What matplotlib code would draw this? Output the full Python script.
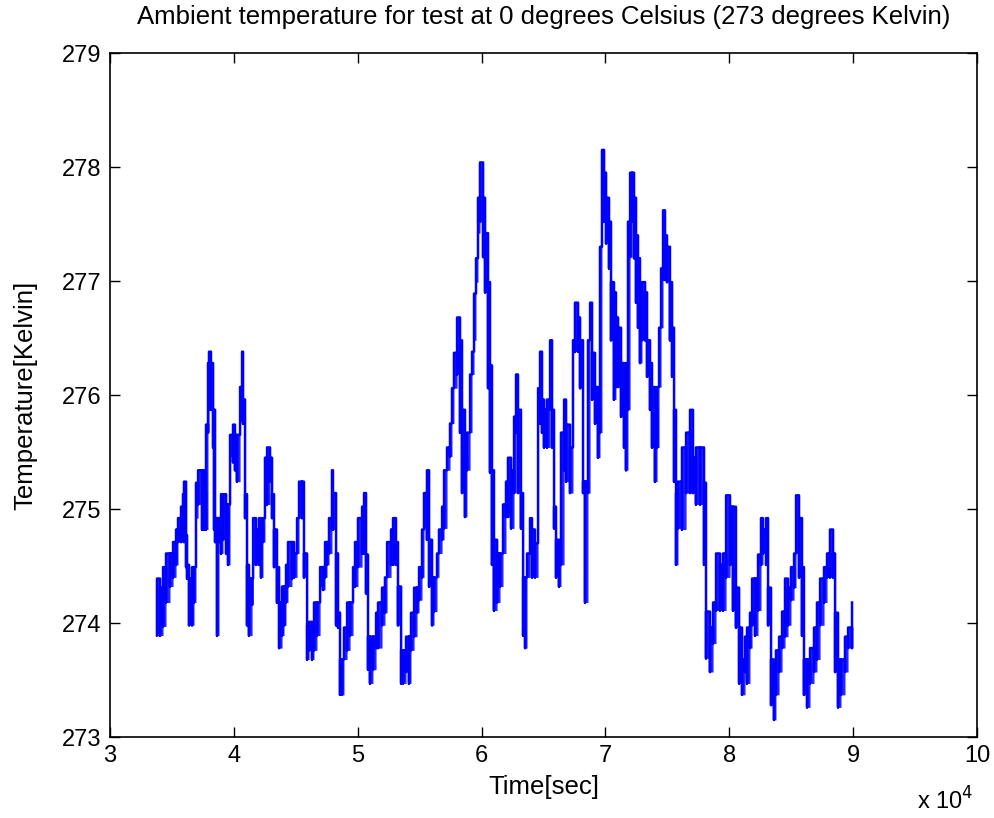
import numpy as np
import matplotlib
matplotlib.use("Agg")
import matplotlib.pyplot as plt

# time stamps (s) and the band of temperature (K) the trace swings through there
time_s = [33790, 34040, 34280, 34520, 34840, 35090, 35330, 35490, 35730, 35890,
          35970, 36140, 36220, 36380, 36620, 36780, 36940, 37110, 37430, 37590,
          37750, 37910, 37990, 38150, 38320, 38400, 38480, 38640, 38800, 38960,
          39120, 39370, 39530, 39690, 39930, 40090, 40250, 40500, 40660, 40740,
          40900, 41060, 41220, 41470, 41550, 41790, 42030, 42190, 42350, 42510,
          42680, 42920, 43080, 43240, 43480, 43650, 43890, 44050, 44210, 44370,
          44690, 44860, 45100, 45260, 45500, 45660, 45910, 46070, 46310, 46470,
          46710, 46960, 47200, 47360, 47520, 47680, 47920, 48000, 48250, 48410,
          48570, 48730, 48890, 49140, 49380, 49620, 49780, 50020, 50350, 50510,
          50670, 50830, 50990, 51230, 51480, 51640, 51960, 52200, 52370, 52690,
          52850, 53090, 53250, 53500, 53660, 53900, 54140, 54300, 54550, 54790,
          54950, 55190, 55350, 55590, 55760, 56000, 56160, 56400, 56560, 56810,
          56970, 57210, 57450, 57610, 57770, 58020, 58260, 58420, 58660, 58820,
          59070, 59230, 59390, 59550, 59710, 59870, 60120, 60280, 60520, 60680,
          60840, 61000, 61250, 61490, 61730, 61970, 62130, 62380, 62620, 62780,
          62940, 63180, 63350, 63510, 63670, 63910, 64070, 64310, 64560, 64720,
          64880, 65040, 65280, 65530, 65690, 65850, 66010, 66250, 66410, 66660,
          66820, 67140, 67380, 67540, 67790, 67950, 68190, 68350, 68590, 68760,
          68920, 69160, 69400, 69560, 69720, 69890, 70050, 70290, 70450, 70690,
          70850, 71020, 71260, 71500, 71660, 71820, 71990, 72150, 72310, 72470,
          72630, 72790, 72950, 73200, 73360, 73600, 73760, 74000, 74170, 74330,
          74490, 74650, 74810, 74970, 75210, 75380, 75540, 75700, 75860, 76180,
          76510, 76830, 77070, 77310, 77640, 77960, 78120, 78440, 78690, 78930,
          79250, 79490, 79740, 80060, 80300, 80540, 80790, 81030, 81270, 81430,
          81670, 81840, 82080, 82320, 82560, 82720, 82970, 83130, 83370, 83610,
          83770, 84020, 84260, 84500, 84740, 84980, 85230, 85390, 85630, 85870,
          86030, 86280, 86520, 86840, 87080, 87330, 87650, 87890, 88130, 88380,
          88540, 88780, 89020, 89340, 89590, 89910]

temp_high = [274.39, 274.31, 274.49, 274.61, 274.61, 274.71, 274.82, 274.92, 275.02, 275.13,
             275.24, 274.77, 274.51, 274.39, 274.49, 274.49, 275.23, 275.34, 275.34, 275.13,
             275.74, 276.28, 276.38, 276.28, 275.87, 275.87, 274.92, 274.92, 274.92, 275.13,
             275.13, 275.04, 275.04, 275.65, 275.74, 275.65, 275.65, 276.07, 276.38, 275.96,
             275.13, 274.51, 274.39, 274.39, 274.92, 274.82, 274.92, 274.86, 274.92, 275.45,
             275.54, 275.45, 275.13, 274.82, 274.49, 274.18, 274.32, 274.32, 274.51, 274.71,
             274.71, 274.61, 274.92, 275.24, 275.24, 274.61, 273.98, 274.01, 273.94, 274.18,
             274.18, 274.49, 274.49, 274.71, 274.71, 274.92, 275.34, 275.14, 274.61, 274.09,
             273.68, 273.68, 273.96, 274.18, 274.18, 274.49, 274.71, 274.92, 275.02, 275.14,
             274.60, 273.88, 273.88, 273.88, 274.09, 274.18, 274.31, 274.40, 274.71, 274.82,
             274.92, 274.71, 274.32, 273.76, 273.76, 273.88, 273.88, 274.09, 274.31, 274.31,
             274.49, 274.82, 275.14, 275.34, 274.73, 274.40, 274.40, 274.61, 274.82, 275.02,
             275.34, 275.54, 275.75, 276.06, 276.37, 276.68, 276.48, 275.87, 275.45, 275.67,
             276.18, 276.38, 276.89, 277.20, 277.73, 278.04, 277.73, 277.42, 276.99, 276.26,
             275.34, 274.73, 274.61, 274.61, 275.04, 275.24, 275.45, 275.34, 275.81, 276.18,
             275.87, 275.14, 274.40, 274.40, 274.61, 274.92, 274.82, 274.70, 276.06, 276.38,
             275.96, 275.87, 275.96, 276.48, 275.87, 275.02, 274.73, 274.71, 275.67, 275.96,
             275.74, 275.54, 276.48, 276.81, 276.68, 276.48, 275.24, 275.24, 276.48, 276.81,
             276.37, 276.07, 275.87, 277.30, 278.15, 277.95, 277.73, 277.52, 276.99, 276.90,
             276.68, 276.59, 276.28, 276.06, 276.28, 277.52, 277.95, 277.95, 277.73, 277.40,
             277.20, 276.90, 276.99, 276.90, 276.48, 276.28, 276.07, 275.87, 276.07, 276.59,
             277.11, 277.62, 277.40, 277.30, 276.99, 276.59, 275.87, 275.14, 275.24, 275.54,
             275.67, 275.87, 275.45, 275.54, 275.54, 275.23, 274.10, 273.96, 274.18, 274.61,
             274.51, 274.61, 275.12, 275.02, 275.02, 274.31, 273.96, 273.68, 273.88, 273.96,
             274.09, 274.39, 274.39, 274.60, 274.92, 274.82, 274.92, 274.31, 273.68, 273.47,
             273.76, 273.88, 274.10, 274.39, 274.31, 274.49, 274.61, 275.12, 274.92, 274.49,
             273.68, 273.68, 273.78, 273.96, 274.18, 274.39, 274.49, 274.61, 274.82, 274.61,
             274.09, 273.68, 273.68, 273.88, 273.96, 274.18]

temp_low = [273.89, 273.89, 273.97, 274.18, 274.32, 274.40, 274.51, 274.71, 274.71, 274.73,
            274.71, 274.49, 274.39, 273.98, 273.98, 274.18, 274.92, 275.04, 274.82, 274.82,
            274.82, 275.67, 275.87, 275.87, 275.54, 274.82, 274.71, 273.89, 274.71, 274.61,
            274.73, 274.61, 274.51, 275.46, 275.41, 275.34, 275.24, 275.78, 275.78, 275.75,
            274.92, 273.98, 273.89, 274.16, 274.51, 274.51, 274.51, 274.40, 274.71, 275.04,
            275.04, 275.24, 274.92, 274.49, 274.18, 273.78, 273.89, 273.98, 274.18, 274.32,
            274.39, 274.40, 274.61, 274.92, 274.92, 274.40, 273.68, 273.76, 273.68, 273.76,
            273.89, 274.32, 274.29, 274.40, 274.51, 274.61, 274.82, 274.82, 273.98, 273.96,
            273.37, 273.37, 273.68, 273.76, 273.89, 274.32, 274.32, 274.49, 274.61, 274.61,
            274.26, 273.59, 273.47, 273.59, 273.78, 273.78, 273.98, 274.09, 274.40, 274.51,
            274.51, 274.51, 273.98, 273.47, 273.47, 273.57, 273.47, 273.76, 273.88, 274.09,
            274.20, 274.40, 274.83, 274.73, 274.32, 273.98, 274.10, 274.40, 274.61, 274.73,
            274.83, 275.34, 275.46, 275.75, 276.06, 276.18, 275.67, 275.14, 274.93, 275.34,
            275.67, 276.18, 276.48, 276.99, 277.42, 277.52, 277.21, 276.90, 276.06, 275.32,
            274.51, 274.11, 274.18, 274.32, 274.61, 274.93, 274.93, 274.83, 275.14, 275.67,
            275.14, 274.83, 273.89, 273.78, 274.40, 274.61, 274.40, 274.40, 275.75, 275.75,
            275.67, 275.54, 275.54, 275.87, 275.54, 274.83, 274.40, 274.32, 274.51, 275.34,
            275.24, 275.14, 276.37, 276.38, 276.38, 276.06, 275.14, 274.18, 275.14, 276.48,
            275.96, 275.75, 275.45, 275.67, 277.52, 277.52, 277.33, 277.11, 276.48, 275.96,
            276.07, 276.07, 275.81, 275.54, 275.34, 275.87, 277.21, 277.52, 277.20, 276.81,
            276.59, 276.28, 276.48, 276.48, 276.16, 275.87, 275.54, 275.24, 275.54, 276.07,
            276.59, 277.01, 277.01, 276.99, 276.48, 276.16, 275.24, 274.51, 274.83, 274.82,
            275.14, 275.14, 275.14, 275.04, 275.04, 274.51, 273.69, 273.57, 273.82, 274.11,
            274.11, 274.11, 274.40, 274.51, 274.11, 273.96, 273.47, 273.37, 273.57, 273.47,
            273.78, 273.98, 273.89, 274.11, 274.51, 274.61, 274.51, 273.98, 273.28, 273.15,
            273.37, 273.57, 273.78, 273.88, 273.98, 274.20, 274.31, 274.61, 274.40, 273.89,
            273.37, 273.26, 273.47, 273.57, 273.68, 273.98, 274.18, 274.40, 274.40, 274.40,
            273.57, 273.26, 273.37, 273.57, 273.78, 273.78]

x_ticks = [3, 4, 5, 6, 7, 8, 9, 10]
y_ticks = [273, 274, 275, 276, 277, 278, 279]

t_band = np.array(time_s) / 1e4
# every sample swings low -> high, so pair the two values per time stamp
t = np.repeat(t_band, 2)
y = np.column_stack([temp_low, temp_high]).ravel()

plt.rcParams['font.family'] = ['Liberation Sans', 'DejaVu Sans']

fig = plt.figure(figsize=(9.94, 8.18), dpi=100)
ax = fig.add_axes([0.1107, 0.0990, 0.8722, 0.8362])
ax.fill_between(t_band, temp_low, temp_high, step='post', color=(0, 0, 1),
                linewidth=0, alpha=0.85)
ax.plot(t, y, color=(0, 0, 1), linewidth=1.8, drawstyle='steps-post')

ax.set_xlim(3, 10)
ax.set_ylim(273, 279)
ax.set_xticks(x_ticks)
ax.set_yticks(y_ticks)
ax.tick_params(direction='in', length=7, width=1, top=True, right=True,
               labelsize=17, pad=6)
for s in ax.spines.values():
    s.set_linewidth(1.2)

fig.text(0.5468, 0.9939,
         'Ambient temperature for test at 0 degrees Celsius (273 degrees Kelvin)',
         fontsize=18.5, ha='center', va='top')
ax.set_xlabel('Time[sec]', fontsize=18.5)
ax.xaxis.set_label_coords(0.5, -0.055)
ax.set_ylabel('Temperature[Kelvin]', fontsize=18.5)
ax.yaxis.set_label_coords(-0.084, 0.5)
fig.text(0.9225, 0.0098, r'x 10$^4$', fontsize=17, ha='left', va='baseline')

fig.savefig('out.png', dpi=100)
